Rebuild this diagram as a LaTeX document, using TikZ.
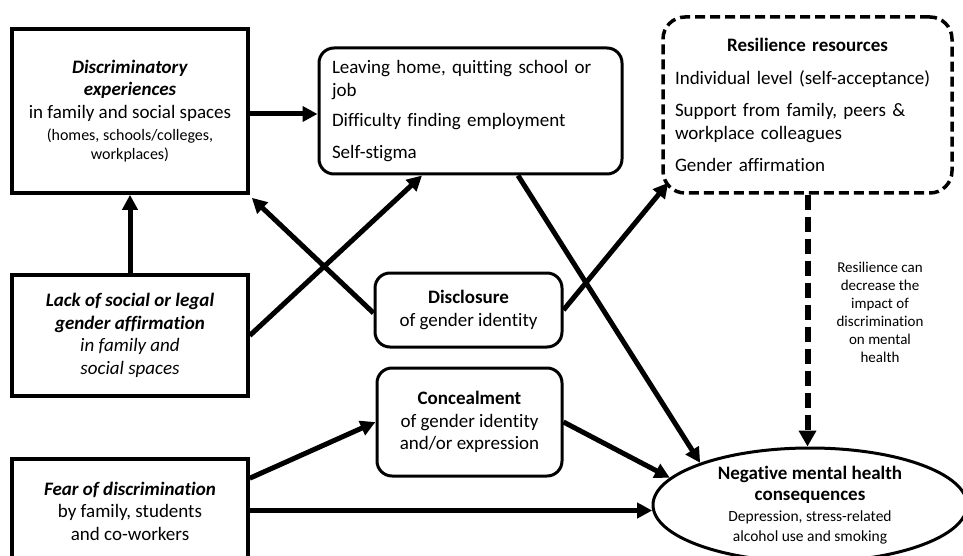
\documentclass[tikz,border=0pt]{standalone}
\usepackage{fontspec}
\setmainfont{Carlito}[Ligatures=NoCommon]
\usetikzlibrary{arrows.meta,shapes.geometric,calc}
\begin{document}
\begin{tikzpicture}[x=1pt,y=-1pt,
  sqbox/.style={draw, line width=3.6pt, rectangle, inner sep=0pt, align=center,
    minimum width=236pt, font=\fontsize{19}{22.5}\selectfont},
  rbox/.style={draw, line width=3pt, rounded corners=15pt, rectangle, inner sep=0pt,
    font=\fontsize{19}{22.5}\selectfont},
  dbox/.style={draw, line width=3.5pt, rounded corners=22pt, rectangle,
    dash pattern=on 10pt off 5pt, font=\fontsize{19}{23}\selectfont},
  arr/.style={line width=5pt, -{Triangle[length=15pt,width=15pt]}},
  darr/.style={line width=6pt, dash pattern=on 15pt off 7pt, -{Triangle[length=16pt,width=17pt]}},
]
\useasboundingbox (0,0) rectangle (963,556);

% boxes
\node[sqbox, minimum height=164pt] (disc) at (130,111)
  {\textbf{\textit{Discriminatory}}\\ \textbf{\textit{experiences}}\\ in family and social spaces\\[-0.5pt]
   {\fontsize{16}{19}\selectfont (homes, schools/colleges,}\\[-3pt] {\fontsize{16}{19}\selectfont workplaces)}};

\node[sqbox, minimum height=121pt] (lack) at (130,335.5)
  {\textbf{\textit{Lack of social or legal}}\\ \textbf{\textit{gender affirmation}}\\ \textit{in family and}\\ \textit{social spaces}};

\node[sqbox, minimum height=104pt] (fear) at (130,511)
  {\textbf{\textit{Fear of discrimination}}\\ by family, students\\ and co-workers};

\node[rbox, minimum height=126pt, text width=277pt, inner xsep=13pt, align=left] (leave) at (470.5,111)
  {Leaving home, quitting school or\\ job\\[8pt] Difficulty finding employment\\[9pt] Self-stigma};

\node[dbox, minimum height=176pt, text width=265pt, inner xsep=12pt, inner ysep=0pt, align=left] (res) at (807.5,105)
  {\makebox[\linewidth]{\textbf{Resilience resources}}\\[10pt] Individual level (self-acceptance)\\[9pt]
   Support from family, peers \&\\ workplace colleagues\\[9pt] Gender affirmation};

\node[rbox, minimum width=187pt, minimum height=74pt, align=center] (dis) at (468.5,310)
  {\textbf{Disclosure}\\ of gender identity};

\node[rbox, minimum width=185pt, minimum height=108pt, align=center] (conc) at (469.5,422)
  {\textbf{Concealment}\\ of gender identity\\ and/or expression};

\node[draw, ellipse, line width=3pt, minimum width=314pt, minimum height=114pt, inner sep=0pt,
  align=center, font=\fontsize{19}{21.5}\selectfont] (neg) at (810,505)
  {\textbf{Negative mental health}\\ \textbf{consequences}\\[-1pt]
   {\fontsize{15.5}{19}\selectfont Depression, stress-related}\\[-1pt] {\fontsize{15.5}{19}\selectfont alcohol use and smoking}};

\node[align=center, font=\fontsize{15}{18}\selectfont] (note) at (880,312)
  {Resilience can\\ decrease the\\ impact of\\ discrimination\\ on mental\\ health};

% helper coordinates
\coordinate (h1) at (0,114);
\coordinate (v422) at (422,0);
\coordinate (v518) at (518,0);

% connectors
\draw[arr] (disc.east |- h1) -- (leave.west |- h1);
\draw[arr] (lack.north) -- (disc.south);
\draw[arr] (lack.east) -- (leave.south -| v422);
\draw[arr] ($(dis.west)+(0,3)$) -- ($(disc.south east)+(2,3)$);
\draw[arr] (dis.east) -- ($(res.south west)+(7,-12)$);
\draw[arr] (leave.south -| v518) -- (neg.159);
\draw[arr] ($(fear.north east)+(0,21)$) -- (conc.west);
\draw[arr] (conc.east) -- (neg.169);
\draw[arr] (fear.east |- neg.182) -- (neg.182);
\draw[darr] (res.south) -- (res.south |- neg.north);
\end{tikzpicture}
\end{document}
